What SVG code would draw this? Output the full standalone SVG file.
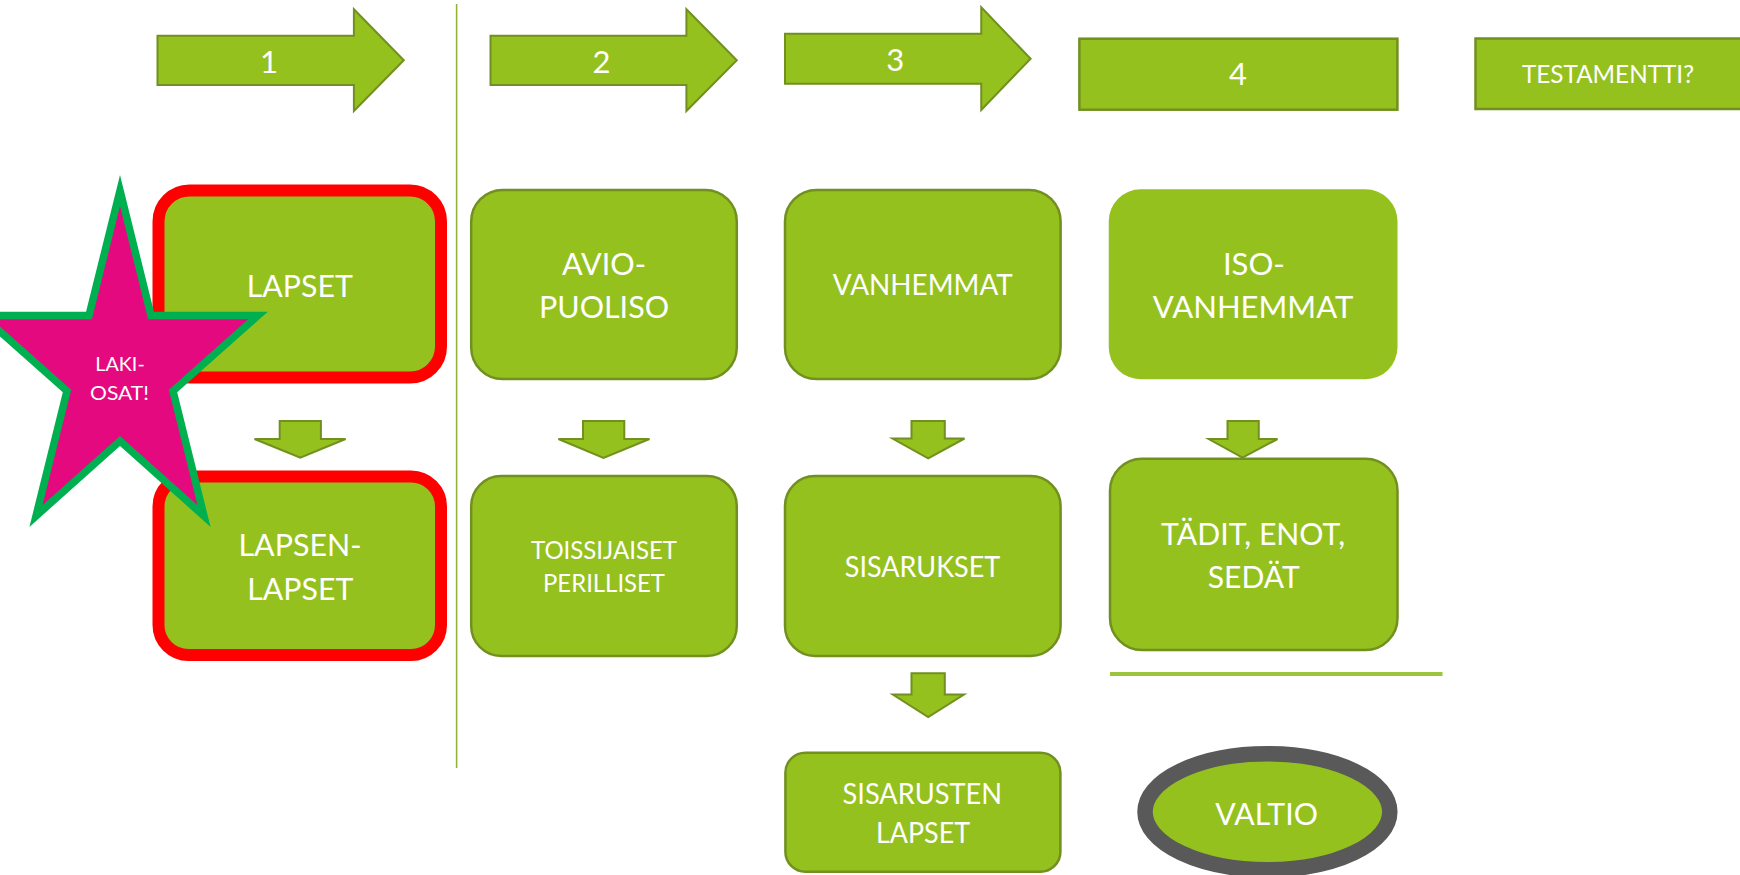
<svg xmlns="http://www.w3.org/2000/svg" width="1740" height="875" viewBox="0 0 1740 875">
<style>
.bg{fill:#ffffff}
.g{fill:#95c11f;stroke:#71901f;stroke-width:2.5}
.gn{fill:#95c11f}
.red{fill:#95c11f;stroke:#ff0000;stroke-width:12}
.arr{fill:#95c11f;stroke:#71901f;stroke-width:2;stroke-linejoin:miter}
.t{fill:#ffffff;font-family:Lato,"Liberation Sans",sans-serif;text-anchor:middle}
.star{fill:#e4097f;stroke:#00b050;stroke-width:7.5;stroke-miterlimit:10}
.sep{stroke:#8db33a;stroke-width:1.5;fill:none}
.hl{stroke:#9bc53d;stroke-width:4;fill:none}
.oval{fill:#95c11f;stroke:#595959;stroke-width:15.5}
</style>
<rect class="bg" x="0" y="0" width="1740" height="875"/>

<g id="separators">
<line class="sep" x1="456.6" y1="4" x2="456.6" y2="768"/>
<line class="hl" x1="1110" y1="674" x2="1442.5" y2="674"/>
</g>

<g id="step1">
<polygon class="arr" points="157.5,35.7 353.9,35.7 353.9,9.3 403.8,60.2 353.9,111 353.9,85 157.5,85"/>
<text class="t" x="269" y="72.7" font-size="31">1</text>
</g>
<g id="step2">
<polygon class="arr" points="490.5,35.7 686.4,35.7 686.4,9.3 736.8,60.2 686.4,111 686.4,85 490.5,85"/>
<text class="t" x="601.5" y="72.7" font-size="31">2</text>
</g>
<g id="step3">
<polygon class="arr" points="785,33.7 981.25,33.7 981.25,7.3 1030.6,58.7 981.25,110 981.25,83.7 785,83.7"/>
<text class="t" x="895.2" y="70.7" font-size="31">3</text>
</g>
<g id="step4">
<rect class="g" x="1079.4" y="38.7" width="318" height="71"/>
<text class="t" x="1238" y="85" font-size="31">4</text>
</g>
<g id="testamentti">
<rect class="g" x="1475.5" y="38.5" width="266" height="70.5"/>
<text class="t" x="1608" y="83.3" font-size="25.5" textLength="172" lengthAdjust="spacingAndGlyphs">TESTAMENTTI?</text>
</g>

<g id="connectors">
<polygon class="arr" points="279.7,421 320.9,421 320.9,439 345.6,439 300.3,457.7 254.5,439 279.7,439"/>
<polygon class="arr" points="583,421 624.3,421 624.3,439 649.5,439 603.5,458 558.4,439 583,439"/>
<polygon class="arr" points="911.5,421 944.8,421 944.8,438.5 964.5,438.5 928.2,458.3 892.5,438.5 911.5,438.5"/>
<polygon class="arr" points="1227.5,421 1258.75,421 1258.75,439 1277.5,439 1242.5,457.7 1208.75,439 1227.5,439"/>
<polygon class="arr" points="911.5,673.3 944.8,673.3 944.8,694.5 964,694.5 928.2,717 892.8,694.5 911.5,694.5"/>
</g>

<g id="lapset">
<rect class="red" x="158.5" y="190.5" width="282.5" height="187" rx="31" ry="31"/>
<text class="t" x="299.8" y="296.7" font-size="30.5" textLength="106" lengthAdjust="spacingAndGlyphs">LAPSET</text>
</g>
<g id="lapsenlapset">
<rect class="red" x="158.5" y="476.5" width="282.5" height="178.5" rx="30" ry="30"/>
<text class="t" x="300" y="556" font-size="31" textLength="123" lengthAdjust="spacingAndGlyphs">LAPSEN-</text>
<text class="t" x="300.3" y="600" font-size="31" textLength="106" lengthAdjust="spacingAndGlyphs">LAPSET</text>
</g>
<g id="puoliso">
<rect class="g" x="471.2" y="190" width="265.6" height="189" rx="31.5" ry="31.5"/>
<text class="t" x="604" y="275" font-size="31.5" textLength="84" lengthAdjust="spacingAndGlyphs">AVIO-</text>
<text class="t" x="604" y="317.7" font-size="31" textLength="130" lengthAdjust="spacingAndGlyphs">PUOLISO</text>
</g>
<g id="toissijaiset">
<rect class="g" x="471.2" y="476" width="265.6" height="180" rx="30" ry="30"/>
<text class="t" x="604" y="559.3" font-size="25.5" textLength="146" lengthAdjust="spacingAndGlyphs">TOISSIJAISET</text>
<text class="t" x="604" y="592.3" font-size="25.5" textLength="122" lengthAdjust="spacingAndGlyphs">PERILLISET</text>
</g>
<g id="vanhemmat">
<rect class="g" x="785" y="190" width="275.6" height="189" rx="31.5" ry="31.5"/>
<text class="t" x="922.8" y="295" font-size="28" textLength="180" lengthAdjust="spacingAndGlyphs">VANHEMMAT</text>
</g>
<g id="sisarukset">
<rect class="g" x="785" y="476" width="275.6" height="180" rx="30" ry="30"/>
<text class="t" x="922.5" y="576.7" font-size="28" textLength="155.5" lengthAdjust="spacingAndGlyphs">SISARUKSET</text>
</g>
<g id="sisarustenlapset">
<rect class="g" x="785.4" y="752.7" width="275" height="119" rx="20" ry="20"/>
<text class="t" x="922.3" y="804.3" font-size="28.3" textLength="159.5" lengthAdjust="spacingAndGlyphs">SISARUSTEN</text>
<text class="t" x="923" y="843.3" font-size="28" textLength="94" lengthAdjust="spacingAndGlyphs">LAPSET</text>
</g>
<g id="isovanhemmat">
<rect class="gn" x="1108.75" y="189.3" width="288.75" height="190" rx="32" ry="32"/>
<text class="t" x="1253.9" y="275" font-size="30.5" textLength="62" lengthAdjust="spacingAndGlyphs">ISO-</text>
<text class="t" x="1253.1" y="317.7" font-size="30.5" textLength="200.5" lengthAdjust="spacingAndGlyphs">VANHEMMAT</text>
</g>
<g id="tadit">
<rect class="g" x="1110" y="458.7" width="287.5" height="191.3" rx="32" ry="32"/>
<text class="t" x="1253.1" y="545" font-size="31" textLength="184" lengthAdjust="spacingAndGlyphs">TÄDIT, ENOT,</text>
<text class="t" x="1253.75" y="587.7" font-size="31" textLength="92" lengthAdjust="spacingAndGlyphs">SEDÄT</text>
</g>
<g id="valtio">
<ellipse class="oval" cx="1267.4" cy="811.8" rx="122.4" ry="58"/>
<text class="t" x="1266.6" y="825" font-size="31.5" textLength="102.5" lengthAdjust="spacingAndGlyphs">VALTIO</text>
</g>

<g id="lakiosat">
<polygon class="star" points="120,190.5 151,315.5 258,315.5 173,391 204,516 120,441 36,516 67,391 -18,315.5 89,315.5"/>
<text class="t" x="120" y="370.7" font-size="19.5" textLength="49.5" lengthAdjust="spacingAndGlyphs">LAKI-</text>
<text class="t" x="119.5" y="400" font-size="19.5" textLength="59" lengthAdjust="spacingAndGlyphs">OSAT!</text>
</g>
</svg>
